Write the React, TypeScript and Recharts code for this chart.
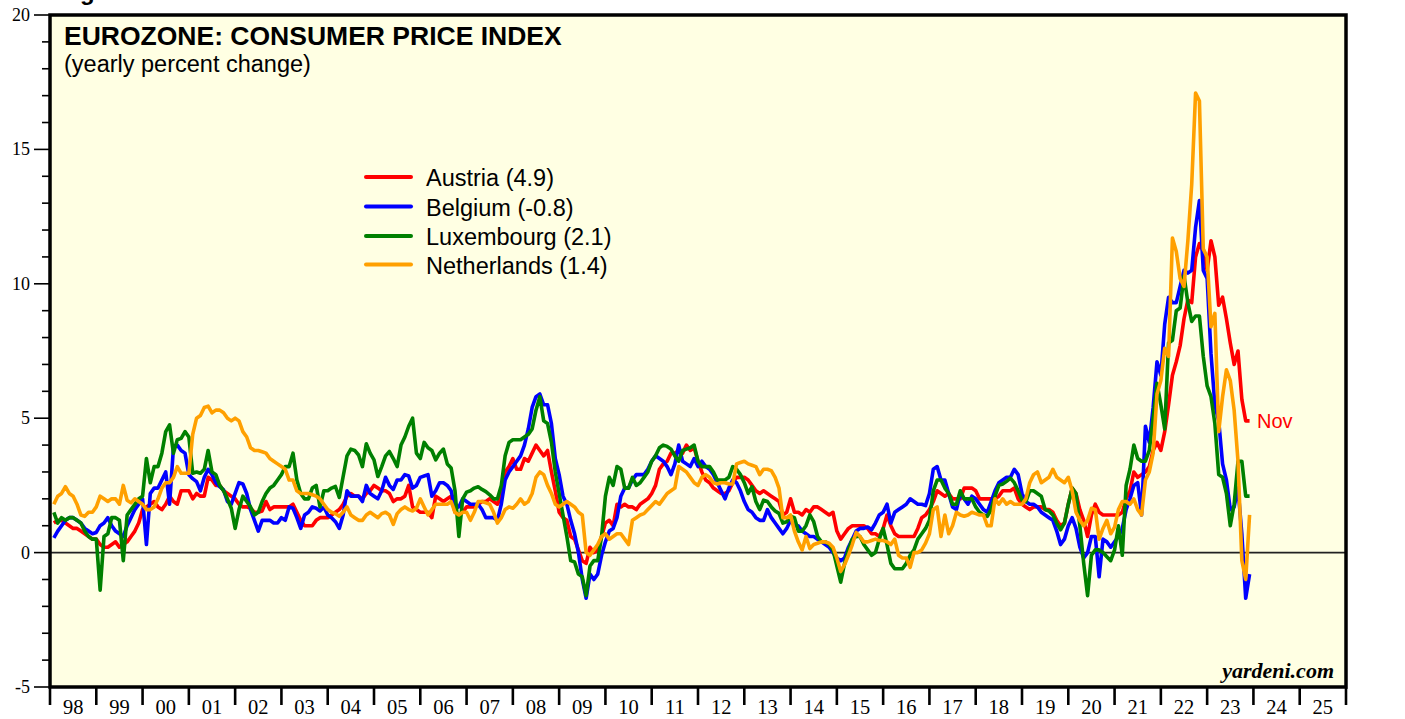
import React from 'react';
import { LineChart, Line, XAxis, YAxis, CartesianGrid, ReferenceLine } from 'recharts';

// ---------- data (yearly % change, monthly Jan 1998 .. Nov 2023) ----------
const YEARS = [1998, 1999, 2000, 2001, 2002, 2003, 2004, 2005, 2006, 2007, 2008, 2009, 2010,
  2011, 2012, 2013, 2014, 2015, 2016, 2017, 2018, 2019, 2020, 2021, 2022, 2023];

const AUSTRIA = [
  [1.1, 1.2, 1.2, 1.1, 1.0, 0.9, 0.9, 0.8, 0.7, 0.6, 0.5, 0.5],
  [0.3, 0.2, 0.2, 0.3, 0.4, 0.2, 0.3, 0.4, 0.6, 0.8, 1.1, 1.6],
  [1.7, 1.8, 1.9, 1.7, 1.6, 1.8, 2.1, 1.9, 1.8, 2.3, 2.3, 2.3],
  [2.0, 2.2, 2.1, 2.1, 2.8, 2.7, 2.5, 2.5, 2.3, 2.2, 2.1, 2.0],
  [1.8, 1.7, 1.7, 1.65, 1.5, 1.5, 1.55, 1.9, 1.6, 1.7, 1.7, 1.7],
  [1.7, 1.7, 1.8, 1.5, 1.2, 1.0, 1.0, 1.0, 1.2, 1.3, 1.3, 1.3],
  [1.4, 1.5, 1.6, 1.8, 2.1, 2.2, 2.1, 2.1, 2.0, 2.2, 2.3, 2.5],
  [2.4, 2.3, 2.3, 2.2, 1.9, 2.0, 2.0, 2.1, 2.5, 1.7, 1.6, 1.5],
  [1.5, 1.5, 1.3, 2.1, 2.0, 1.9, 2.0, 2.1, 1.5, 1.4, 1.5, 1.7],
  [1.7, 1.7, 1.8, 1.9, 1.9, 2.0, 1.9, 1.8, 2.1, 3.0, 3.2, 3.5],
  [3.1, 3.1, 3.5, 3.4, 3.7, 4.0, 3.8, 3.6, 3.8, 3.0, 2.3, 1.5],
  [1.3, 1.2, 0.6, 0.5, 0.1, -0.3, -0.4, 0.2, 0.0, 0.1, 0.6, 1.1],
  [1.2, 1.0, 1.8, 1.7, 1.8, 1.7, 1.7, 1.6, 1.8, 1.9, 2.0, 2.2],
  [2.5, 3.1, 3.3, 3.4, 3.7, 3.7, 3.8, 3.7, 4.0, 3.8, 3.9, 3.4],
  [3.0, 2.7, 2.6, 2.4, 2.3, 2.2, 2.2, 2.3, 2.6, 2.8, 2.8, 2.8],
  [2.7, 2.5, 2.3, 2.2, 2.3, 2.2, 2.1, 2.0, 1.9, 1.4, 1.5, 2.0],
  [1.5, 1.5, 1.4, 1.6, 1.5, 1.7, 1.7, 1.6, 1.5, 1.4, 1.5, 0.8],
  [0.5, 0.7, 0.9, 1.0, 1.0, 1.0, 1.0, 0.9, 0.7, 0.7, 0.6, 0.9],
  [1.4, 1.0, 0.7, 0.6, 0.6, 0.6, 0.6, 0.6, 0.9, 1.3, 1.4, 1.6],
  [1.9, 2.3, 2.2, 2.1, 2.2, 2.0, 2.0, 2.0, 2.4, 2.4, 2.4, 2.3],
  [2.0, 2.0, 2.0, 2.0, 2.0, 2.1, 2.3, 2.3, 2.3, 2.4, 2.0, 1.8],
  [1.7, 1.6, 1.7, 1.7, 1.7, 1.6, 1.6, 1.5, 1.2, 1.0, 1.1, 1.8],
  [2.4, 2.2, 1.6, 1.2, 0.6, 1.4, 1.8, 1.5, 1.4, 1.4, 1.4, 1.4],
  [1.4, 1.5, 2.0, 2.3, 3.0, 2.8, 2.9, 3.0, 3.2, 3.8, 4.1, 3.8],
  [4.5, 5.5, 6.6, 7.1, 7.7, 8.7, 9.4, 9.3, 11.0, 11.5, 11.2, 10.5],
  [11.6, 11.0, 9.2, 9.5, 8.7, 7.8, 7.0, 7.5, 5.7, 4.9, 4.9],
];

const BELGIUM = [
  [0.55, 0.8, 1.0, 1.2, 1.3, 1.3, 1.2, 1.1, 0.9, 0.8, 0.7, 0.75],
  [1.0, 1.1, 1.3, 1.0, 0.8, 0.7, 0.6, 1.0, 1.3, 1.6, 1.8, 2.0],
  [0.3, 2.2, 2.4, 2.4, 2.7, 3.0, 1.8, 3.9, 4.0, 3.8, 3.7, 2.9],
  [2.75, 2.64, 2.3, 2.8, 3.1, 2.9, 2.6, 2.45, 2.33, 1.9, 1.8, 2.2],
  [2.6, 2.55, 2.2, 1.6, 1.2, 0.8, 1.2, 1.2, 1.2, 1.1, 1.1, 1.3],
  [1.2, 1.7, 1.65, 1.3, 0.9, 1.4, 1.5, 1.7, 1.65, 1.55, 1.7, 1.4],
  [1.3, 1.15, 0.9, 1.4, 2.3, 2.1, 2.1, 2.1, 1.9, 2.5, 2.2, 2.1],
  [2.0, 2.3, 2.8, 2.5, 2.35, 2.7, 2.7, 2.9, 2.85, 2.4, 2.5, 2.8],
  [2.85, 2.9, 2.1, 2.3, 2.6, 2.6, 2.5, 2.3, 1.65, 1.7, 2.0, 1.9],
  [1.8, 1.8, 1.8, 1.6, 1.3, 1.3, 1.3, 1.2, 1.8, 2.7, 3.0, 3.2],
  [3.4, 3.6, 4.0, 4.6, 5.4, 5.8, 5.9, 5.5, 5.5, 4.8, 3.5, 2.9],
  [2.1, 1.8, 1.2, 0.7, 0.0, -1.0, -1.7, -0.8, -1.0, -0.8, -0.1, 0.4],
  [0.8, 0.9, 1.3, 2.1, 2.4, 2.4, 2.7, 2.9, 2.9, 2.9, 3.1, 3.4],
  [3.6, 3.5, 3.4, 3.2, 2.9, 3.3, 4.0, 3.4, 3.3, 3.2, 3.5, 3.2],
  [3.4, 3.2, 3.1, 2.9, 2.6, 2.3, 2.0, 2.4, 2.7, 2.6, 2.3, 1.9],
  [1.6, 1.5, 1.3, 1.2, 1.2, 1.6, 1.3, 1.1, 0.9, 0.7, 0.9, 1.2],
  [1.0, 1.0, 0.8, 0.7, 0.6, 0.6, 0.5, 0.4, 0.3, 0.2, 0.0, -0.2],
  [-0.3, -0.2, 0.2, 0.5, 0.8, 0.9, 0.9, 0.95, 0.85, 1.1, 1.4, 1.5],
  [1.8, 1.1, 1.5, 1.6, 1.7, 1.8, 2.0, 1.9, 1.8, 1.8, 1.75, 2.2],
  [3.1, 3.2, 2.7, 2.7, 2.2, 1.7, 1.6, 2.2, 2.0, 1.8, 2.1, 2.0],
  [1.8, 1.6, 1.5, 1.9, 2.3, 2.6, 2.7, 2.8, 2.8, 3.1, 2.9, 2.2],
  [1.9, 1.8, 1.8, 1.7, 1.5, 1.4, 1.3, 1.2, 0.8, 0.3, 0.5, 1.0],
  [1.3, 0.9, 0.2, -0.2, 0.0, 0.6, 0.6, -0.9, 0.5, 0.4, 0.2, 0.4],
  [0.6, 0.9, 1.6, 2.0, 2.5, 2.6, 1.4, 4.7, 4.1, 5.4, 7.1, 6.6],
  [8.5, 9.5, 9.3, 9.3, 9.9, 10.5, 10.4, 10.5, 12.1, 13.1, 10.5, 10.2],
  [7.4, 5.5, 4.9, 3.3, 2.7, 1.6, 1.7, 2.4, 0.7, -1.7, -0.8],
];

const LUXEMBOURG = [
  [1.5, 1.1, 1.3, 1.2, 1.3, 1.3, 1.2, 1.1, 0.8, 0.6, 0.5, 0.5],
  [-1.4, 0.6, 0.7, 1.3, 1.3, 1.2, -0.3, 1.4, 1.6, 1.8, 2.0, 2.1],
  [3.5, 2.6, 3.2, 3.2, 3.7, 4.5, 4.75, 3.7, 4.2, 4.25, 4.5, 4.3],
  [2.95, 3.0, 2.95, 3.1, 3.8, 3.0, 2.9, 2.5, 2.3, 2.0, 1.65, 0.9],
  [1.6, 2.1, 1.9, 1.7, 1.4, 1.5, 1.9, 2.2, 2.4, 2.5, 2.7, 2.9],
  [3.2, 3.2, 3.7, 2.7, 2.2, 2.0, 2.0, 2.4, 2.5, 1.7, 2.3, 2.3],
  [2.4, 2.46, 2.05, 2.83, 3.6, 3.85, 3.8, 3.63, 3.2, 4.05, 3.7, 3.45],
  [2.83, 3.2, 3.6, 3.76, 3.5, 3.2, 4.0, 4.3, 4.7, 5.0, 3.7, 3.5],
  [4.1, 3.9, 3.8, 3.45, 3.7, 3.85, 3.3, 3.15, 2.3, 0.6, 2.0, 2.25],
  [2.3, 2.4, 2.45, 2.35, 2.27, 2.15, 2.0, 2.0, 2.5, 3.6, 4.1, 4.2],
  [4.2, 4.2, 4.3, 4.4, 4.6, 5.3, 5.8, 4.9, 4.8, 4.1, 3.0, 2.2],
  [1.4, 0.6, -0.3, -0.35, -0.8, -0.9, -1.6, -0.5, -0.3, -0.3, 0.6, 2.1],
  [2.8, 2.5, 3.2, 3.1, 2.4, 2.4, 2.8, 2.5, 2.6, 2.8, 3.0, 3.4],
  [3.6, 3.9, 4.0, 3.95, 3.85, 3.6, 3.4, 3.8, 3.85, 3.9, 4.0, 3.4],
  [3.2, 3.2, 3.2, 3.0, 2.7, 2.7, 2.7, 2.8, 3.2, 3.1, 2.9, 2.6],
  [2.2, 2.45, 1.9, 1.6, 1.95, 1.9, 1.7, 1.55, 1.46, 1.1, 1.15, 1.35],
  [1.3, 0.8, 0.8, 1.0, 1.4, 1.15, 0.6, 0.4, 0.4, 0.3, 0.1, -0.5],
  [-1.1, -0.4, 0.1, 0.5, 0.6, 0.6, 0.3, 0.1, -0.1, 0.0, 0.5, 0.9],
  [0.3, -0.4, -0.6, -0.6, -0.6, -0.4, -0.1, 0.1, 0.5, 0.7, 0.9, 1.2],
  [2.3, 2.7, 2.7, 2.4, 2.2, 1.8, 1.8, 2.3, 2.0, 2.0, 2.0, 1.7],
  [1.5, 1.4, 1.35, 1.6, 2.1, 2.5, 2.55, 2.65, 2.77, 2.6, 2.3, 1.95],
  [1.9, 2.3, 2.3, 2.2, 2.1, 1.6, 1.55, 1.4, 1.1, 0.85, 1.1, 1.8],
  [2.4, 2.2, 1.0, -0.4, -1.6, -0.1, 0.1, 0.1, 0.0, -0.15, -0.3, 0.1],
  [1.0, -0.1, 2.5, 3.1, 4.0, 3.5, 3.4, 3.4, 3.8, 5.0, 6.3, 5.5],
  [4.6, 7.8, 7.9, 9.0, 9.1, 10.3, 9.3, 8.6, 8.8, 8.8, 7.3, 6.2],
  [5.8, 4.8, 2.9, 2.8, 2.2, 1.0, 1.8, 3.4, 3.4, 2.1, 2.1],
];

const NETHERLANDS = [
  [1.8, 2.1, 2.2, 2.45, 2.2, 2.1, 1.8, 1.4, 1.35, 1.5, 1.5, 1.7],
  [2.1, 2.0, 1.9, 2.0, 2.0, 1.8, 2.5, 1.95, 1.85, 2.0, 1.9, 1.8],
  [1.6, 1.6, 1.7, 2.0, 2.4, 2.6, 2.6, 2.8, 3.2, 2.95, 2.95, 2.95],
  [4.4, 5.0, 5.1, 5.4, 5.45, 5.2, 5.3, 5.3, 5.2, 5.0, 4.9, 5.0],
  [4.9, 4.5, 4.3, 3.9, 3.8, 3.8, 3.75, 3.7, 3.5, 3.4, 3.3, 3.2],
  [3.1, 2.7, 2.7, 2.3, 2.2, 2.2, 2.2, 2.15, 2.1, 2.0, 1.8, 1.6],
  [1.5, 1.45, 1.35, 1.5, 1.7, 1.4, 1.3, 1.2, 1.2, 1.4, 1.5, 1.4],
  [1.3, 1.45, 1.5, 1.4, 1.05, 1.45, 1.6, 1.7, 1.6, 1.55, 1.65, 2.0],
  [1.7, 1.4, 1.6, 1.8, 1.8, 1.8, 1.8, 1.9, 1.5, 1.4, 1.5, 1.5],
  [1.2, 1.5, 1.9, 1.9, 1.85, 1.8, 1.5, 1.1, 1.3, 1.6, 1.7, 1.65],
  [1.8, 2.0, 1.8, 1.9, 2.2, 2.8, 3.0, 2.9, 2.5, 2.2, 1.8, 1.7],
  [1.8, 1.9, 1.8, 1.7, 1.5, 1.4, 0.0, -0.1, 0.1, 0.3, 0.6, 0.7],
  [0.5, 0.6, 0.7, 0.7, 0.5, 0.3, 1.2, 1.3, 1.4, 1.45, 1.6, 1.75],
  [1.9, 1.8, 2.0, 2.2, 2.3, 2.4, 3.2, 3.1, 3.0, 2.8, 2.6, 2.5],
  [2.8, 2.9, 2.8, 2.6, 2.55, 2.6, 2.6, 2.55, 2.55, 3.3, 3.35, 3.4],
  [3.3, 3.25, 3.2, 2.9, 3.1, 3.1, 3.05, 2.8, 2.4, 1.3, 1.3, 1.4],
  [0.8, 0.4, 0.1, 0.6, 0.15, 0.3, 0.35, 0.4, 0.4, 0.35, 0.2, -0.2],
  [-0.7, -0.45, -0.1, 0.3, 0.75, 0.6, 0.4, 0.4, 0.45, 0.5, 0.45, 0.45],
  [0.4, 0.3, 0.5, -0.1, -0.2, -0.2, -0.55, 0.0, 0.0, 0.1, 0.35, 0.7],
  [1.6, 1.7, 0.6, 1.4, 0.7, 1.0, 1.5, 1.4, 1.35, 1.4, 1.5, 1.45],
  [1.4, 1.4, 1.0, 1.0, 2.0, 1.8, 2.0, 1.8, 1.9, 1.8, 1.8, 1.8],
  [2.0, 2.6, 2.9, 3.0, 2.6, 2.7, 2.8, 3.1, 2.8, 2.7, 2.6, 2.8],
  [2.3, 1.5, 1.2, 1.0, 1.2, 1.65, 1.6, 0.5, 0.9, 1.2, 0.7, 0.95],
  [1.6, 1.9, 1.9, 1.8, 2.0, 1.6, 1.4, 2.7, 3.0, 3.7, 5.9, 6.4],
  [7.6, 7.3, 11.7, 11.2, 10.2, 9.9, 11.6, 13.7, 17.1, 16.8, 11.3, 11.0],
  [8.4, 8.9, 4.5, 5.8, 6.8, 6.4, 5.3, 3.4, -0.3, -1.0, 1.4],
];

const SERIES = [
  { key: 'austria', name: 'Austria (4.9)', color: '#FF0000', values: AUSTRIA },
  { key: 'belgium', name: 'Belgium (-0.8)', color: '#0000FF', values: BELGIUM },
  { key: 'luxembourg', name: 'Luxembourg (2.1)', color: '#008000', values: LUXEMBOURG },
  { key: 'netherlands', name: 'Netherlands (1.4)', color: '#FFA000', values: NETHERLANDS },
];

const X_TICKS = [1998, 1999, 2000, 2001, 2002, 2003, 2004, 2005, 2006, 2007, 2008, 2009, 2010,
  2011, 2012, 2013, 2014, 2015, 2016, 2017, 2018, 2019, 2020, 2021, 2022, 2023, 2024, 2025, 2026];
const X_LABELS = ['98', '99', '00', '01', '02', '03', '04', '05', '06', '07', '08', '09', '10',
  '11', '12', '13', '14', '15', '16', '17', '18', '19', '20', '21', '22', '23', '24', '25'];
const Y_TICKS = [-5, -4, -3, -2, -1, 0, 1, 2, 3, 4, 5, 6, 7, 8, 9, 10, 11, 12, 13, 14, 15, 16, 17, 18, 19, 20];

// build chart rows: each monthly value plotted at month end
const DATA: any[] = [];
YEARS.forEach((yr, yi) => {
  AUSTRIA[yi].forEach((_, mi) => {
    const row: any = { t: yr + (mi + 1) / 12 };
    SERIES.forEach((s) => { row[s.key] = s.values[yi][mi]; });
    DATA.push(row);
  });
});

// ---------- layout ----------
const W = 1405;
const H = 719;
const PL = 50;
const PR = 1346;
const PT = 15;
const PB = 687;
const YEAR_W = (PR - PL) / 28;

const SERIF = '"Liberation Serif", "Times New Roman", serif';
const SANS = '"Liberation Sans", Arial, sans-serif';

const LeftTick = (props: any) => {
  const { y, payload } = props;
  const v = payload.value;
  const major = v % 5 === 0;
  return (
    <g>
      <line x1={major ? 34 : 42} x2={PL} y1={y} y2={y} stroke="#000" strokeWidth={1.6} />
      {major && (
        <text x={30} y={y + 6} textAnchor="end" fontFamily={SERIF} fontSize={18} fill="#000">{v}</text>
      )}
    </g>
  );
};

const RightTick = (props: any) => {
  const { y, payload } = props;
  const v = payload.value;
  const major = v % 5 === 0;
  return (
    <g>
      <line x1={PR} x2={major ? PR + 16 : PR + 8} y1={y} y2={y} stroke="#000" strokeWidth={1.6} />
      {major && (
        <text x={PR + 20} y={y + 6} textAnchor="start" fontFamily={SERIF} fontSize={18} fill="#000">{v}</text>
      )}
    </g>
  );
};

const BottomTick = (props: any) => {
  const { x, payload } = props;
  const v = payload.value;
  const idx = v - 1998;
  return (
    <g>
      <line x1={x} x2={x} y1={PB + 1} y2={PB + 18} stroke="#000" strokeWidth={2.6} />
      {idx < X_LABELS.length && (
        <text x={x + YEAR_W / 2} y={714} textAnchor="middle" fontFamily={SERIF} fontSize={20.5} fill="#000">
          {X_LABELS[idx]}
        </text>
      )}
    </g>
  );
};

const LEGEND_Y = [177, 206.5, 236, 264.5];

export default function App() {
  return (
    <div style={{ position: 'absolute', left: 0, top: 0, width: W, height: H, background: '#fff' }}>
      <LineChart width={W} height={H} data={DATA} margin={{ top: PT, right: 0, bottom: 0, left: 0 }}>
        <CartesianGrid horizontal={false} vertical={false} fill="#FFFFE3" fillOpacity={1} stroke="none" />
        <XAxis
          dataKey="t"
          type="number"
          domain={[1998, 2026]}
          ticks={X_TICKS}
          interval={0}
          height={H - PB}
          axisLine={false}
          tickLine={false}
          tick={(p: any) => <BottomTick {...p} />}
        />
        <YAxis
          yAxisId="left"
          type="number"
          domain={[-5, 20]}
          ticks={Y_TICKS}
          interval={0}
          width={PL}
          axisLine={false}
          tickLine={false}
          tick={(p: any) => <LeftTick {...p} />}
        />
        <YAxis
          yAxisId="right"
          orientation="right"
          type="number"
          domain={[-5, 20]}
          ticks={Y_TICKS}
          interval={0}
          width={W - PR}
          axisLine={false}
          tickLine={false}
          tick={(p: any) => <RightTick {...p} />}
        />
        <ReferenceLine yAxisId="left" y={0} stroke="#222" strokeWidth={1.6} />
        {SERIES.map((s) => (
          <Line
            key={s.key}
            yAxisId="left"
            type="linear"
            dataKey={s.key}
            stroke={s.color}
            strokeWidth={3.6}
            strokeLinejoin="round"
            dot={false}
            activeDot={false}
            isAnimationActive={false}
          />
        ))}
      </LineChart>
      <svg
        width={W}
        height={H}
        style={{ position: 'absolute', left: 0, top: 0, pointerEvents: 'none' }}
      >
        <rect x={PL} y={PT} width={PR - PL} height={PB - PT} fill="none" stroke="#000" strokeWidth={3.5} />
        <text x={80} y={0} fontFamily={SANS} fontWeight="bold" fontSize={24} fill="#000">g</text>
        <text x={64} y={45} fontFamily={SANS} fontWeight="bold" fontSize={26.5} fill="#000">
          EUROZONE: CONSUMER PRICE INDEX
        </text>
        <text x={64} y={72} fontFamily={SANS} fontSize={23.5} fill="#000">(yearly percent change)</text>
        {SERIES.map((s, i) => (
          <g key={s.key}>
            <line x1={366} x2={411} y1={LEGEND_Y[i]} y2={LEGEND_Y[i]} stroke={s.color} strokeWidth={4} strokeLinecap="round" />
            <text x={426} y={LEGEND_Y[i] + 9} fontFamily={SANS} fontSize={23.5} fill="#000">{s.name}</text>
          </g>
        ))}
        <text x={1257} y={428} fontFamily={SANS} fontSize={20} fill="#FF0000">Nov</text>
        <text x={1334} y={678} textAnchor="end" fontFamily={SERIF} fontWeight="bold" fontStyle="italic" fontSize={22} fill="#000">
          yardeni.com
        </text>
      </svg>
    </div>
  );
}
